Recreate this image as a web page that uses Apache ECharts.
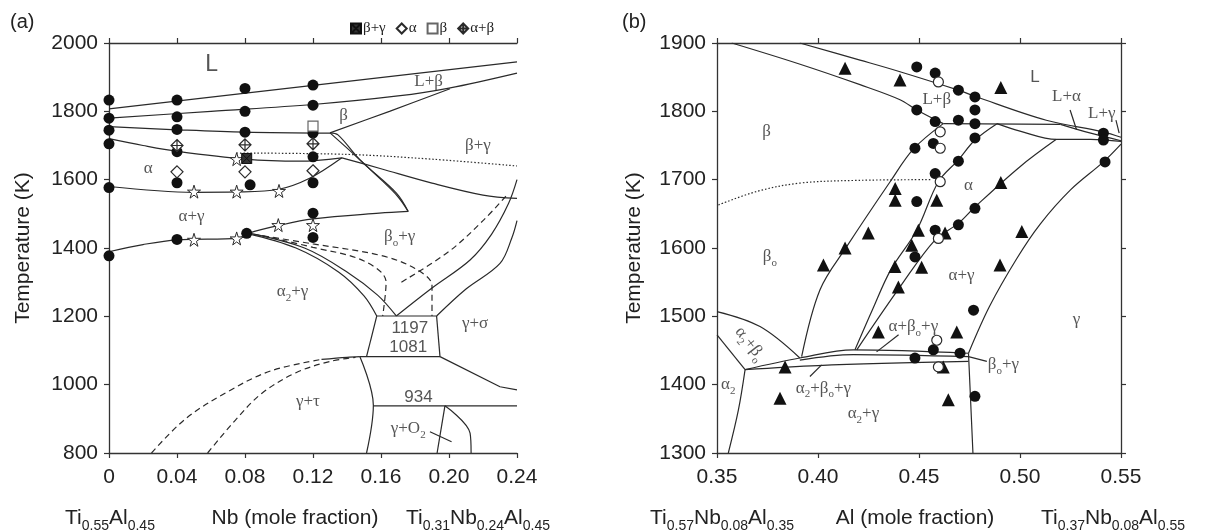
<!DOCTYPE html>
<html><head><meta charset="utf-8">
<script src="https://cdn.jsdelivr.net/npm/echarts@6/dist/echarts.min.js"></script>
<style>html,body{margin:0;padding:0;background:#fff}#c{width:1213px;height:530px}</style>
</head><body><div id="c"></div>
<script>
// ---------- ticks ----------
const aXTicks = [0, 0.04, 0.08, 0.12, 0.16, 0.20, 0.24];
const aYTicks = [800, 1000, 1200, 1400, 1600, 1800, 2000];
const bXTicks = [0.35, 0.40, 0.45, 0.50, 0.55];
const bYTicks = [1300, 1400, 1500, 1600, 1700, 1800, 1900];

// ---------- panel (a) boundaries ----------
const aLiquidus = [[0,1807],[0.24,1945]];
const aSolidus = [[0,1780],[0.06,1800],[0.12,1820],[0.17,1845],[0.20,1868],[0.24,1912]];
const aBetaSolvus = [[0.13,1737],[0.165,1800],[0.2006,1866]];
const aBetaTransus = [[0,1755],[0.04,1746],[0.08,1739],[0.13,1736]];
const aAlphaLower = [[0,1720],[0.02,1700],[0.04,1683],[0.08,1660],[0.112,1654],[0.137,1664]];
const aAlphaGammaTop = [[0,1580],[0.05,1563],[0.075,1564],[0.10,1572],[0.118,1604],[0.137,1664]];
const aLoopOuter = [[0.13,1737],[0.145,1670],[0.16,1600],[0.17,1550],[0.176,1507]];
const aLoopInner = [[0.13,1737],[0.1347,1731],[0.1476,1658],[0.1692,1560],[0.176,1507]];
const aAlphaGammaLow = [[0,1389],[0.02,1410],[0.04,1424],[0.076,1428],[0.082,1443],[0.10,1466],[0.12,1485],[0.159,1502],[0.176,1507]];
const aBetaGammaLow = [[0.137,1664],[0.16,1632],[0.19,1590],[0.22,1555],[0.24,1545]];
const aOrderDotted = [[0.075,1678],[0.14,1674],[0.19,1660],[0.24,1640]];
const aA2Top1 = [[0.081,1443],[0.11,1400],[0.135,1330],[0.15,1260],[0.1575,1201]];
const aA2Top2 = [[0.083,1443],[0.115,1400],[0.14,1330],[0.158,1262],[0.169,1201]];
const aDash1 = [[0.085,1440],[0.12,1412],[0.16,1378],[0.18,1340],[0.19,1290],[0.19,1201]];
const aDash2 = [[0.09,1436],[0.12,1402],[0.15,1362],[0.163,1300],[0.161,1201]];
const aDash3 = [[0.172,1300],[0.2,1390],[0.22,1480],[0.235,1560]];
const aGammaR1 = [[0.169,1201],[0.19,1283],[0.2124,1365],[0.225,1440],[0.235,1530],[0.24,1600]];
const aGammaR2 = [[0.1927,1201],[0.21,1280],[0.23,1355],[0.237,1430],[0.24,1480]];
const aIso1197 = [[0.1575,1201],[0.1927,1201]];
const aIso1081 = [[0.1476,1082],[0.1947,1082]];
const aBoxLeft = [[0.1575,1201],[0.1515,1082]];
const aBoxRight = [[0.1927,1201],[0.1947,1082]];
const aSigmaLow = [[0.1947,1082],[0.23,994],[0.24,985]];
const aTauRight = [[0.1476,1082],[0.1555,940],[0.1515,800]];
const aIso934 = [[0.1555,938],[0.24,938]];
const aO2Right = [[0.1976,938],[0.2124,858],[0.213,800]];
const aO2Left = [[0.1976,938],[0.193,800]];
const aO2Pointer = [[0.1888,862],[0.2015,833]];
const aTauTopSolid = [[0.125,1074],[0.14,1080],[0.1476,1082]];
const aTauDashA = [[0.025,800],[0.045,900],[0.07,980],[0.095,1040],[0.125,1074]];
const aTauDashB = [[0.058,800],[0.075,900],[0.09,975],[0.11,1035],[0.13,1068],[0.145,1080]];

// ---------- panel (a) markers ----------
const aDots = [[0,1833],[0,1780],[0,1745],[0,1705],[0,1577],[0,1377],
  [0.04,1833],[0.04,1784],[0.04,1747],[0.04,1682],[0.04,1591],[0.04,1425],
  [0.08,1867],[0.08,1800],[0.08,1739],[0.083,1585],[0.081,1443],
  [0.12,1877],[0.12,1818],[0.12,1736],[0.12,1667],[0.12,1591],[0.12,1502],[0.12,1431]];
const aStars = [[0.05,1565],[0.0751,1565],[0.10,1567],[0.05,1424],[0.0751,1428],[0.0996,1467],[0.0751,1660],[0.12,1467]];
const aBetaGammaPts = [[0.081,1662]];
const aAlphaPts = [[0.04,1623],[0.08,1623],[0.12,1626]];
const aBetaPts = [[0.12,1757]];
const aAlphaBetaPts = [[0.04,1700],[0.08,1702],[0.12,1705]];

const aLabels = [
  [0.0604,1936,'L','big'],[0.138,1789,'β','g'],[0.188,1887,'L+β','g'],[0.217,1701,'β+γ','g'],
  [0.0231,1633,'α','g'],[0.0486,1492,'α+γ','g'],[0.171,1433,'{g|β}{s|o}{g|+γ}','r'],
  [0.108,1272,'{g|α}{s|2}{g|+γ}','r'],[0.2153,1180,'γ+σ','g'],[0.177,1165,'1197','n'],
  [0.176,1109,'1081','n'],[0.117,950,'γ+τ','g'],[0.182,964,'934','n'],[0.176,871,'{g|γ+O}{s|2}','r']
];

// ---------- panel (b) boundaries ----------
const bSolidusBeta = [[0.3573,1900],[0.39,1870],[0.4208,1839],[0.4406,1817],[0.4489,1802],[0.462,1782]];
const bLiquidus = [[0.391,1900],[0.4208,1875],[0.4406,1858],[0.4695,1831],[0.4777,1822],[0.513,1787],[0.541,1770],[0.55,1762]];
const bPeritectic = [[0.462,1782],[0.52,1781]];
const bAlphaSolidus = [[0.52,1781],[0.535,1768],[0.55,1757]];
const bAlphaTop = [[0.4886,1782],[0.50,1771],[0.518,1759],[0.535,1759],[0.55,1756]];
const bCurveA = [[0.462,1782],[0.4473,1745],[0.4357,1697],[0.4142,1602],[0.401,1539],[0.3919,1441]];
const bCurveB = [[0.4886,1782],[0.4777,1758],[0.4695,1729],[0.4596,1697],[0.4489,1626],[0.436,1568],[0.427,1510],[0.4183,1451]];
const bCurveC = [[0.518,1759],[0.50,1719],[0.4777,1660],[0.4695,1636],[0.458,1612],[0.4406,1543],[0.4192,1451]];
const bCurveD = [[0.55,1752],[0.5413,1726],[0.525,1685],[0.51,1635],[0.4985,1585],[0.485,1515],[0.4745,1446]];
const bGammaVert = [[0.4745,1446],[0.4755,1380],[0.4767,1300]];
const bThree1 = [[0.3639,1422],[0.391,1439],[0.4175,1451],[0.4745,1446]];
const bThree2 = [[0.391,1436],[0.4175,1444],[0.4745,1441]];
const bThree3 = [[0.3639,1422],[0.40,1428],[0.4745,1434]];
const bA2B0Top = [[0.35,1507],[0.3713,1485],[0.391,1439]];
const bA2Left = [[0.35,1473],[0.3639,1422]];
const bA2Right = [[0.3639,1422],[0.3606,1363],[0.3556,1300]];
const bOrderDotted = [[0.3507,1663],[0.37,1683],[0.391,1695],[0.42,1699],[0.4563,1700]];
const bPtrABG = [[0.429,1448],[0.4399,1473]];
const bPtrA2BG = [[0.396,1412],[0.4018,1429]];
const bPtrBG = [[0.4745,1441],[0.4836,1434]];
const bPtrLA = [[0.5248,1802],[0.528,1773]];
const bPtrLG = [[0.5475,1787],[0.5491,1768]];

// ---------- panel (b) markers ----------
const bTriangles = [[0.4134,1863],[0.4406,1846],[0.4905,1835],[0.4382,1687],[0.4382,1670],[0.4588,1670],
  [0.4905,1696],[0.5009,1624],[0.4249,1622],[0.4134,1600],[0.4027,1575],[0.4497,1626],[0.4464,1604],
  [0.4629,1622],[0.4381,1573],[0.4513,1572],[0.4901,1575],[0.4398,1543],[0.4299,1477],[0.4687,1477],
  [0.462,1426],[0.4645,1378],[0.3837,1426],[0.3812,1380]];
const bDots = [[0.4489,1865],[0.458,1856],[0.4695,1831],[0.4777,1821],[0.4777,1802],[0.4777,1782],
  [0.4695,1787],[0.4489,1802],[0.458,1785],[0.4777,1761],[0.4571,1753],[0.448,1746],[0.4695,1727],
  [0.458,1709],[0.4489,1668],[0.4777,1658],[0.4695,1634],[0.458,1626],[0.448,1587],[0.477,1509],
  [0.5413,1768],[0.5413,1758],[0.5421,1726],[0.4571,1451],[0.4703,1446],[0.448,1439],[0.4777,1383]];
const bOpenCircles = [[0.4596,1843],[0.4605,1770],[0.4605,1746],[0.4605,1697],[0.4596,1614],[0.4588,1465],[0.4596,1426]];

const bLabels = [
  [0.3746,1770,'β','g',0],[0.3762,1587,'{g|β}{s|o}','r',0],[0.4588,1817,'L+β','g',0],
  [0.5074,1850,'L','n',0],[0.523,1821,'L+α','g',0],[0.5405,1797,'L+γ','g',0],
  [0.4745,1692,'α','g',0],[0.4711,1560,'α+γ','g',0],[0.528,1495,'γ','g',0],
  [0.4472,1485,'{g|α+β}{s|o}{g|+γ}','r',0],[0.4918,1429,'{g|β}{s|o}{g|+γ}','r',0],
  [0.4027,1395,'{g|α}{s|2}{g|+β}{s|o}{g|+γ}','r',0],[0.4225,1358,'{g|α}{s|2}{g|+γ}','r',0],
  [0.3556,1400,'{g|α}{s|2}','r',0],[0.3663,1460,'{g|α}{s|2}{g|+β}{s|o}','r',-52]
];

// ---------- build ----------
const INK = '#2a2a2a';
const SERIF = '"Liberation Serif","DejaVu Serif",serif';
const SANS = '"Liberation Sans",Arial,sans-serif';
const series = [];
function line(data, panel, style, smooth) {
  series.push({
    type: 'line', data: data, xAxisIndex: panel === 0 ? 0 : 2, yAxisIndex: panel === 0 ? 0 : 1,
    symbol: 'none', smooth: smooth === undefined ? 0.35 : smooth, silent: true, animation: false,
    lineStyle: { color: INK, width: 1.2, type: style === 'dash' ? [6, 4] : (style === 'dot' ? [1.5, 2] : 'solid') },
    z: 2
  });
}
function pts(name, data, panel, symbol, size, fill, stroke, bw) {
  series.push({
    name: name, type: 'scatter', data: data, xAxisIndex: panel === 0 ? 0 : 2, yAxisIndex: panel === 0 ? 0 : 1,
    symbol: symbol, symbolSize: size, silent: true, animation: false,
    itemStyle: { color: fill, borderColor: stroke, borderWidth: bw, opacity: 1 }, z: 5
  });
}
const richBase = {
  g: { fontFamily: SERIF, fontSize: 17, color: INK, lineHeight: 24, verticalAlign: 'middle' },
  s: { fontFamily: SERIF, fontSize: 11, color: INK, lineHeight: 12, verticalAlign: 'bottom' },
  n: { fontFamily: SANS, fontSize: 17, color: INK, lineHeight: 24, verticalAlign: 'middle' },
  big: { fontFamily: SANS, fontSize: 23, color: INK, lineHeight: 24 }
};
function labels(list, panel) {
  series.push({
    type: 'scatter', xAxisIndex: panel === 0 ? 0 : 2, yAxisIndex: panel === 0 ? 0 : 1,
    symbolSize: 0, silent: true, animation: false, z: 6,
    data: list.map(d => ({ value: [d[0], d[1]], txt: d[2], kind: d[3],
      label: { rotate: d[4] || 0 } })),
    label: {
      show: true, position: 'inside', color: INK,
      formatter: p => {
        const k = p.data.kind, t = p.data.txt;
        if (k === 'r') return t;
        return '{' + k + '|' + t + '}';
      },
      rich: richBase
    }
  });
}

// panel a lines
[aLiquidus, aSolidus, aBetaSolvus, aBetaTransus, aAlphaLower, aAlphaGammaTop, aLoopOuter, aLoopInner,
 aAlphaGammaLow, aBetaGammaLow, aA2Top1, aA2Top2, aGammaR1, aGammaR2, aTauRight, aO2Right, aTauTopSolid]
  .forEach(d => line(d, 0, 'solid'));
[aIso1197, aIso1081, aBoxLeft, aBoxRight, aSigmaLow, aIso934, aO2Left, aO2Pointer]
  .forEach(d => line(d, 0, 'solid', false));
[aDash1, aDash2, aDash3, aTauDashA, aTauDashB].forEach(d => line(d, 0, 'dash'));
line(aOrderDotted, 0, 'dot');

// panel b lines
[bSolidusBeta, bLiquidus, bAlphaSolidus, bAlphaTop, bCurveA, bCurveB, bCurveC, bCurveD, bGammaVert,
 bThree1, bThree2, bThree3, bA2B0Top, bA2Right].forEach(d => line(d, 1, 'solid'));
[bPeritectic, bA2Left, bPtrABG, bPtrA2BG, bPtrBG, bPtrLA, bPtrLG].forEach(d => line(d, 1, 'solid', false));
line(bOrderDotted, 1, 'dot');

const STAR = 'path://M50,0 L61,35 L98,35 L68,57 L79,91 L50,70 L21,91 L32,57 L2,35 L39,35 Z';
const XDIAM = 'path://M50,0 L100,50 L50,100 L0,50 Z M50,0 L50,100 M0,50 L100,50';
const XSQ = 'path://M0,0 L100,0 L100,100 L0,100 Z M0,0 L100,100 M100,0 L0,100';
pts('dotsA', aDots, 0, 'circle', 11, '#111', '#111', 0);
pts('starsA', aStars, 0, STAR, 13, '#fff', INK, 1);
pts('β+γ', aBetaGammaPts, 0, XSQ, 10, '#333', '#111', 1);
pts('α', aAlphaPts, 0, 'diamond', 12, '#fff', INK, 1.2);
pts('β', aBetaPts, 0, 'rect', 10, '#fff', '#666', 1.2);
pts('α+β', aAlphaBetaPts, 0, XDIAM, 12, '#fff', INK, 1.2);
pts('tri', bTriangles, 1, 'triangle', 13, '#111', '#111', 0);
pts('dotsB', bDots, 1, 'circle', 11, '#111', '#111', 0);
pts('openB', bOpenCircles, 1, 'circle', 10, '#fff', INK, 1.2);
labels(aLabels, 0);
labels(bLabels, 1);

const axisLabel = { color: '#222', fontSize: 21, fontFamily: SANS, margin: 14 };
const axisLine = { show: true, lineStyle: { color: '#333', width: 1.3 } };
const axisTick = { show: true, inside: false, length: 5, lineStyle: { color: '#333', width: 1.2 } };
function xa(grid, min, max, step, fmt, pos, showLabel) {
  return { type: 'value', gridIndex: grid, min: min, max: max, interval: step, position: pos,
    axisLine: axisLine, axisTick: axisTick, splitLine: { show: false },
    axisLabel: Object.assign({}, axisLabel, { show: showLabel, formatter: fmt }) };
}
function ya(grid, min, max, step, pos, showLabel, gap) {
  return { type: 'value', gridIndex: grid, min: min, max: max, interval: step, position: pos,
    axisLine: axisLine, axisTick: axisTick, splitLine: { show: false },
    name: showLabel ? 'Temperature (K)' : '', nameLocation: 'middle', nameGap: gap || 0,
    nameTextStyle: { fontSize: 21, fontFamily: SANS, color: '#222' },
    axisLabel: Object.assign({}, axisLabel, { show: showLabel, margin: 11, formatter: v => String(v) }) };
}
const fmtA = v => v === 0 ? '0' : v.toFixed(2);
const fmtB = v => v.toFixed(2);

const subRich = {
  n: { fontFamily: SANS, fontSize: 21, fill: '#222', lineHeight: 30, verticalAlign: 'middle' },
  s: { fontFamily: SANS, fontSize: 14, fill: '#222', lineHeight: 14, verticalAlign: 'bottom' }
};
function gText(x, y, text) {
  return { type: 'text', x: x, y: y, silent: true,
    style: { text: text, rich: subRich, align: 'center', verticalAlign: 'middle',
      font: '21px ' + SANS, fill: '#222' } };
}

const option = {
  backgroundColor: '#fff',
  animation: false,
  grid: [
    { left: 109, top: 43, width: 408, height: 410, containLabel: false },
    { left: 717, top: 43, width: 404, height: 410, containLabel: false }
  ],
  xAxis: [
    xa(0, aXTicks[0], aXTicks[aXTicks.length - 1], 0.04, fmtA, 'bottom', true),
    xa(0, aXTicks[0], aXTicks[aXTicks.length - 1], 0.04, fmtA, 'top', false),
    xa(1, bXTicks[0], bXTicks[bXTicks.length - 1], 0.05, fmtB, 'bottom', true),
    xa(1, bXTicks[0], bXTicks[bXTicks.length - 1], 0.05, fmtB, 'top', false)
  ],
  yAxis: [
    ya(0, aYTicks[0], aYTicks[aYTicks.length - 1], 200, 'left', true, 75),
    ya(1, bYTicks[0], bYTicks[bYTicks.length - 1], 100, 'left', true, 72),
    ya(1, bYTicks[0], bYTicks[bYTicks.length - 1], 100, 'right', false)
  ],
  legend: {
    data: ['β+γ', 'α', 'β', 'α+β'], left: 345, top: 16, itemWidth: 10, itemHeight: 10, itemGap: 10,
    textStyle: { fontFamily: SERIF, fontSize: 15, color: '#222', padding: [0, 0, 0, -3] },
    selectedMode: false
  },
  series: series,
  graphic: [
    { type: 'text', x: 10, y: 12, style: { text: '(a)', font: '20px ' + SANS, fill: '#222' } },
    { type: 'text', x: 622, y: 12, style: { text: '(b)', font: '20px ' + SANS, fill: '#222' } },
    gText(110, 518, '{n|Ti}{s|0.55}{n|Al}{s|0.45}'),
    gText(295, 518, '{n|Nb (mole fraction)}'),
    gText(478, 518, '{n|Ti}{s|0.31}{n|Nb}{s|0.24}{n|Al}{s|0.45}'),
    gText(722, 518, '{n|Ti}{s|0.57}{n|Nb}{s|0.08}{n|Al}{s|0.35}'),
    gText(915, 518, '{n|Al (mole fraction)}'),
    gText(1113, 518, '{n|Ti}{s|0.37}{n|Nb}{s|0.08}{n|Al}{s|0.55}')
  ]
};
const chart = echarts.init(document.getElementById('c'), null, { renderer: 'canvas' });
chart.setOption(option);
</script></body></html>
